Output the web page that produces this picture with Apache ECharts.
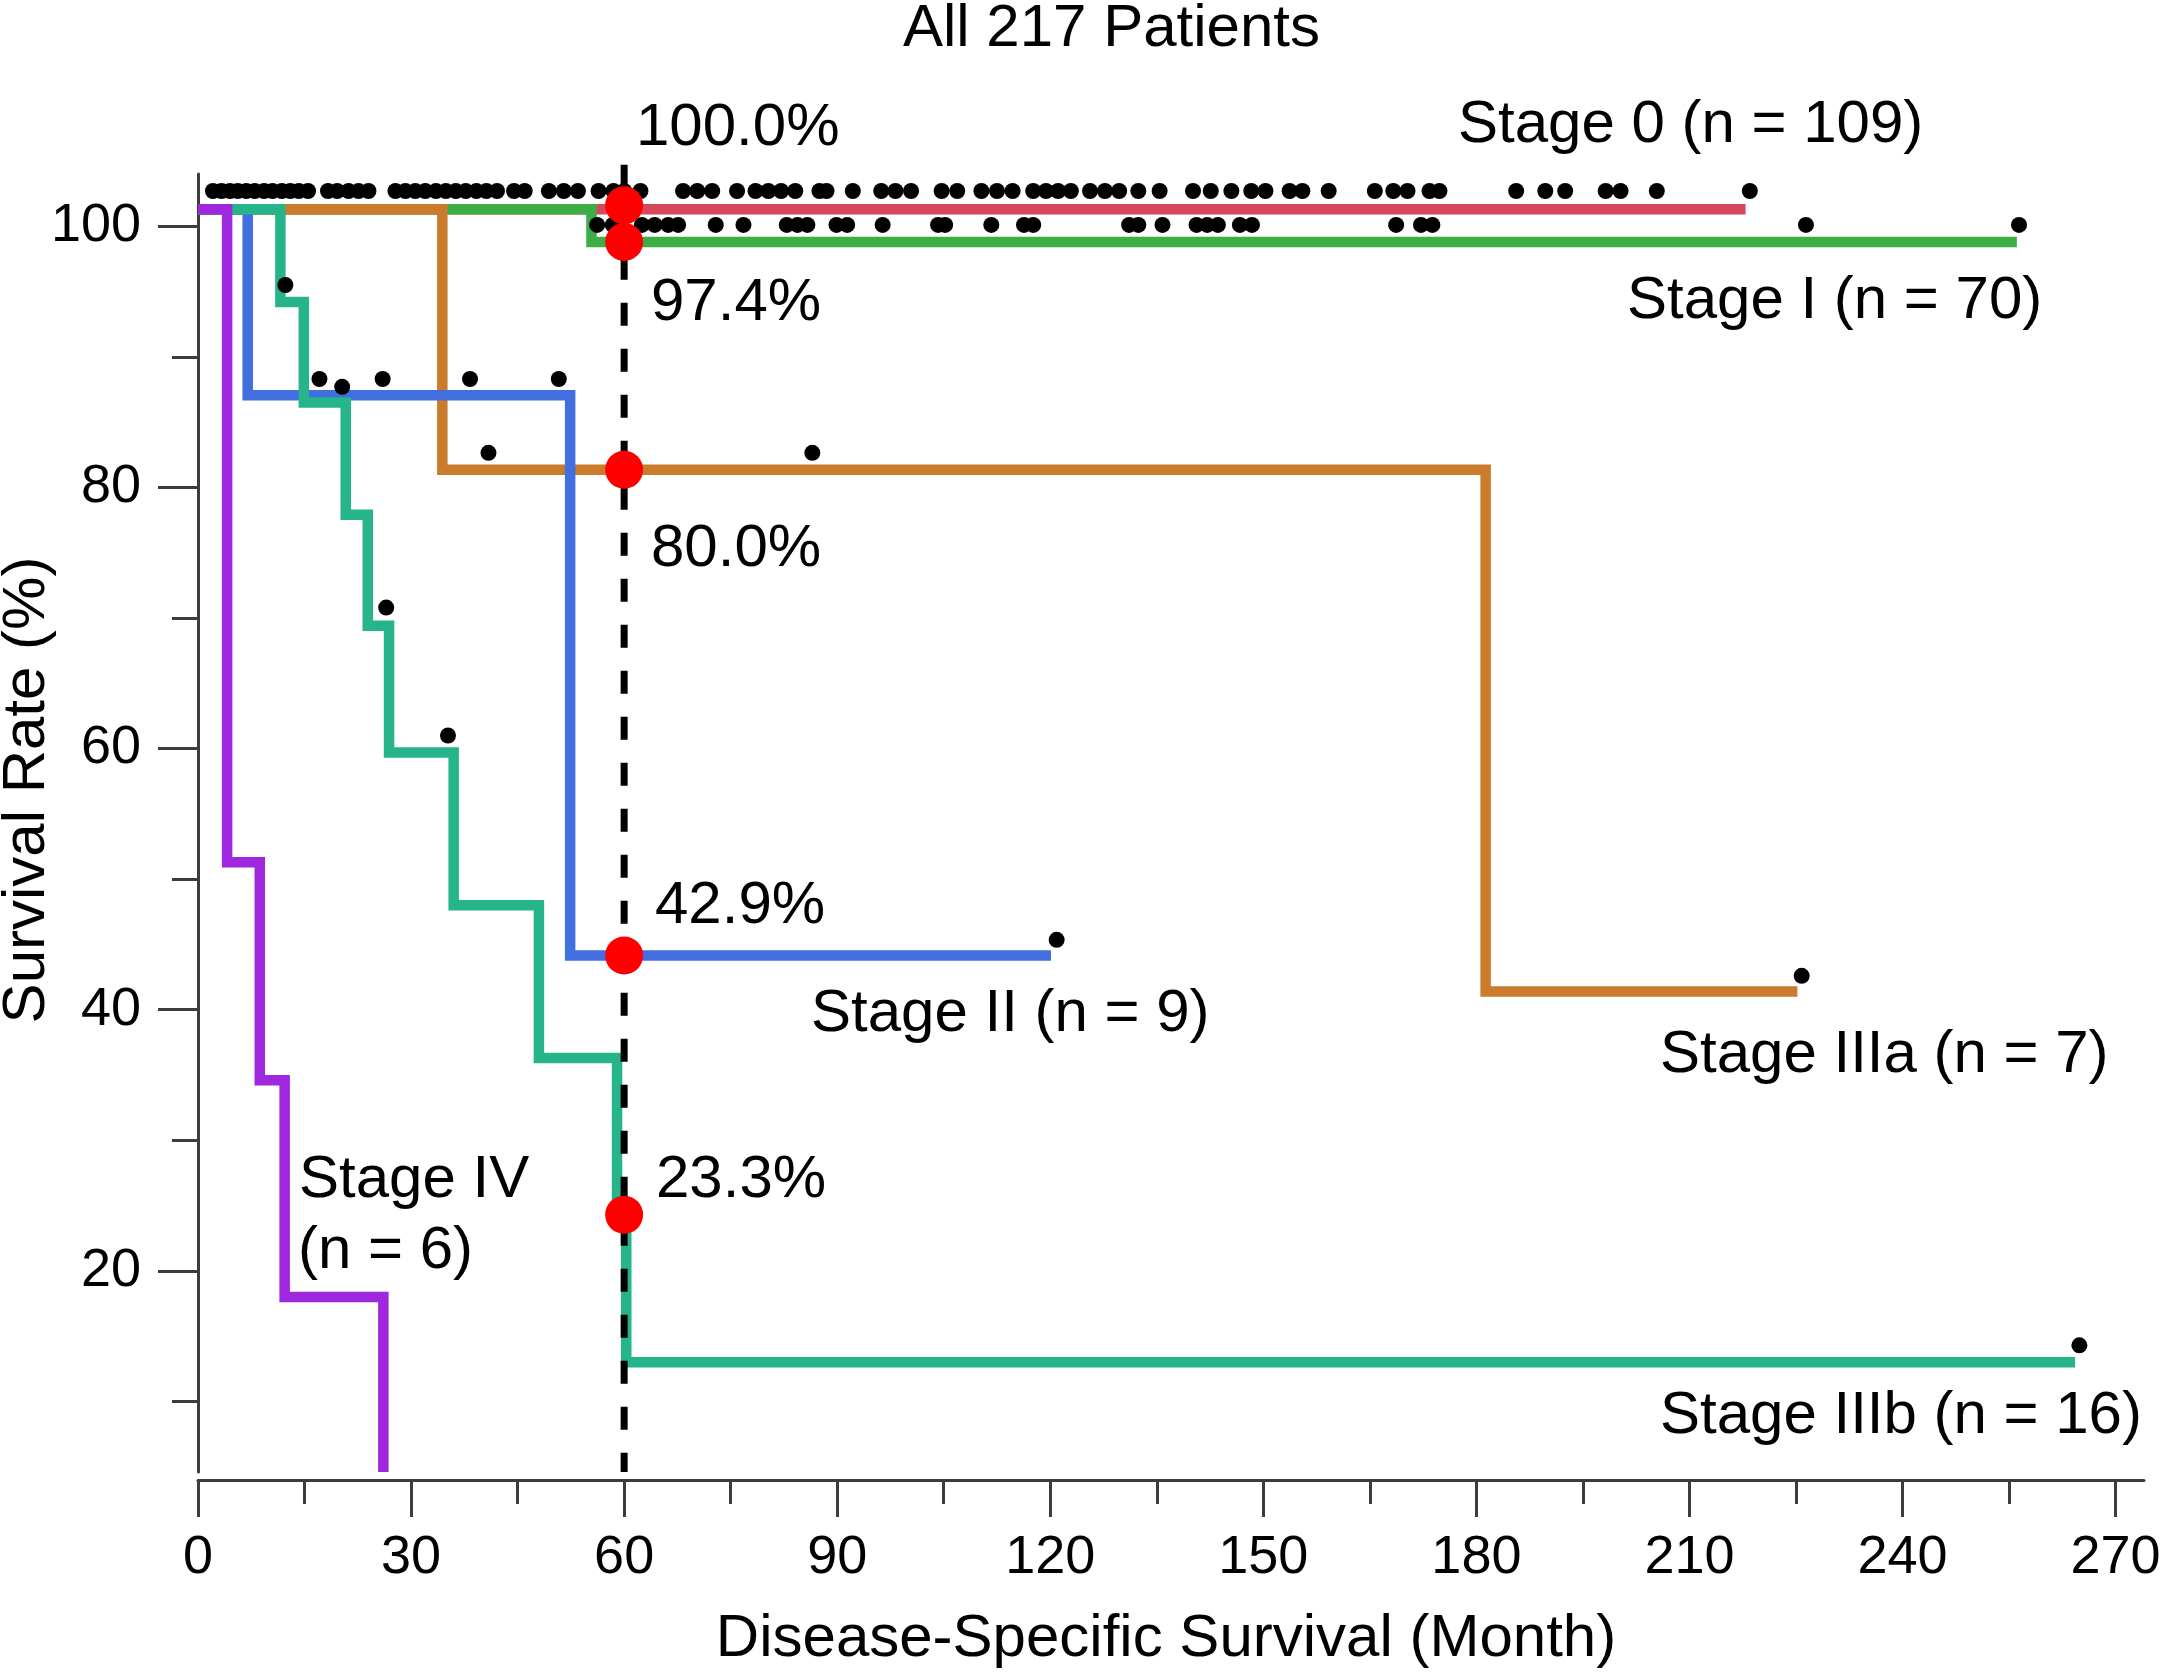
<!DOCTYPE html>
<html>
<head>
<meta charset="utf-8">
<title>All 217 Patients</title>
<script src="https://cdn.jsdelivr.net/npm/echarts@6.0.0/dist/echarts.min.js"></script>
<style>
  html, body { margin: 0; padding: 0; background: #fff; }
  #chart { width: 2164px; height: 1672px; }
</style>
</head>
<body>
<div id="chart"></div>
<script>
// Kaplan-Meier steps: [month, survival]
const stage0Curve = [[0, 101.3], [217.9, 101.3]];
const stage1Curve = [[0, 101.3], [55.4, 98.8], [256.1, 98.8]];
const stage2Curve = [[0, 101.3], [7.0, 87.05], [52.4, 44.15], [120.1, 44.15]];
const stage3aCurve = [[0, 101.3], [34.4, 81.35], [181.3, 41.4], [225.2, 41.4]];
const stage3bCurve = [[0, 101.3], [11.6, 94.2], [14.9, 86.5], [20.8, 77.9], [23.9, 69.4],
  [26.9, 59.7], [36.0, 48.0], [48.0, 36.3], [59.0, 24.3], [60.3, 13.0], [264.3, 13.0]];
const stage4Curve = [[0, 101.3], [4.1, 51.3], [8.7, 34.6], [12.2, 18.0], [26.1, 4.6]];

// censored patients (black dots)
const stage0CensorLevel = 102.7;
const stage0CensorMonths = [2.1, 3.3, 4.5, 5.6, 6.8, 8.0, 9.3, 10.5, 11.8, 13.0, 14.2, 15.5,
  18.3, 19.6, 21.2, 22.6, 24.0, 27.8, 29.2, 30.6, 32.0, 33.5, 34.9, 36.3, 37.7, 39.2, 40.6, 42.1,
  44.5, 46.0, 49.4, 51.5, 53.5, 56.4, 58.5, 60.0, 62.3, 68.3, 70.3, 72.4, 75.9, 78.5, 80.3, 82.1,
  84.1, 87.5, 88.5, 92.2, 96.2, 98.2, 100.4, 104.7, 106.9, 110.3, 112.5, 114.7, 117.6, 119.4,
  121.1, 122.9, 125.6, 127.7, 129.7, 132.4, 135.4, 140.1, 142.6, 145.5, 148.3, 150.3, 153.7,
  155.5, 159.2, 165.7, 168.3, 170.3, 173.4, 174.8, 185.6, 189.7, 192.5, 198.2, 200.3, 205.4, 218.5];
const stage1CensorLevel = 100.1;
const stage1CensorMonths = [56.2, 58.4, 62.5, 64.3, 66.2, 67.6, 72.9, 76.8, 82.9, 84.4, 85.8,
  89.9, 91.4, 96.4, 104.2, 105.2, 111.7, 116.3, 117.6, 131.1, 132.4, 135.8, 140.6, 142.1, 143.6,
  146.7, 148.4, 168.7, 172.2, 173.8, 226.4, 256.4];
const stage2Censored = [[17.1, 88.3], [26.0, 88.3], [38.3, 88.3], [50.8, 88.3], [120.9, 45.35]];
const stage3aCensored = [[40.9, 82.65], [86.5, 82.65], [225.8, 42.6]];
const stage3bCensored = [[12.3, 95.5], [20.3, 87.7], [26.5, 70.8], [35.2, 61.0], [264.9, 14.3]];

// 5-year landmark
const landmarkMonth = 60;
const landmarkRates = [101.6, 98.8, 81.35, 44.15, 24.3];
const landmarkTexts = ['100.0%', '97.4%', '80.0%', '42.9%', '23.3%'];

// axis ticks
const xMajorTicks = [0, 30, 60, 90, 120, 150, 180, 210, 240, 270];
const xMinorTicks = [15, 45, 75, 105, 135, 165, 195, 225, 255];
const yMajorTicks = [20, 40, 60, 80, 100];
const yMinorTicks = [10, 30, 50, 70, 90];

const FONT = '"Liberation Sans", Arial, Helvetica, sans-serif';
const AXIS_COLOR = '#3c3c3c';
const colors = {
  s0: '#D5475A',
  s1: '#3CAE45',
  s2: '#426FDF',
  s3a: '#CC7A2B',
  s3b: '#26B48A',
  s4: '#9F27DE'
};

const chart = echarts.init(document.getElementById('chart'), null, { renderer: 'canvas' });

function kmLine(name, data, color) {
  return {
    name: name,
    type: 'line',
    step: 'end',
    data: data,
    symbol: 'none',
    lineStyle: { color: color, width: 10.5, cap: 'butt', join: 'miter' },
    z: 2,
    silent: true
  };
}

function dots(data, size, color, z) {
  return {
    type: 'scatter',
    data: data,
    symbol: 'circle',
    symbolSize: size,
    itemStyle: { color: color, opacity: 1 },
    clip: false,
    z: z,
    silent: true
  };
}

function text(str, x, y, opts) {
  opts = opts || {};
  return {
    type: 'text',
    x: x,
    y: y,
    rotation: opts.rotation || 0,
    style: {
      text: str,
      fill: '#000',
      font: (opts.size || 60) + 'px ' + FONT,
      align: opts.align || 'left',
      verticalAlign: 'middle'
    },
    z: 10
  };
}

const stage0Censored = stage0CensorMonths.map(m => [m, stage0CensorLevel]);
const stage1Censored = stage1CensorMonths.map(m => [m, stage1CensorLevel]);

const option = {
  animation: false,
  backgroundColor: '#fff',
  grid: { left: 198, right: 20, top: 174, bottom: 200, containLabel: false },
  xAxis: [{
    type: 'value',
    position: 'bottom',
    min: 0,
    max: 274,
    offset: 8,
    axisLine: { show: true, lineStyle: { color: AXIS_COLOR, width: 3 } },
    axisTick: { show: true, length: 37, customValues: xMajorTicks, lineStyle: { color: AXIS_COLOR, width: 3 } },
    axisLabel: { customValues: xMajorTicks, fontSize: 54, fontFamily: FONT, color: '#000', margin: 51 },
    splitLine: { show: false }
  }, {
    type: 'value',
    position: 'bottom',
    min: 0,
    max: 274,
    offset: 8,
    axisLine: { show: false },
    axisTick: { show: true, length: 24, customValues: xMinorTicks, lineStyle: { color: AXIS_COLOR, width: 3 } },
    axisLabel: { show: false },
    splitLine: { show: false }
  }],
  yAxis: [{
    type: 'value',
    position: 'left',
    min: 4.6,
    max: 104,
    axisLine: { show: true, lineStyle: { color: AXIS_COLOR, width: 3 } },
    axisTick: { show: true, length: 40, customValues: yMajorTicks, lineStyle: { color: AXIS_COLOR, width: 3 } },
    axisLabel: { customValues: yMajorTicks, fontSize: 54, fontFamily: FONT, color: '#000', margin: 57 },
    splitLine: { show: false }
  }, {
    type: 'value',
    position: 'left',
    min: 4.6,
    max: 104,
    axisLine: { show: false },
    axisTick: { show: true, length: 26, customValues: yMinorTicks, lineStyle: { color: AXIS_COLOR, width: 3 } },
    axisLabel: { show: false },
    splitLine: { show: false }
  }],
  series: [
    kmLine('Stage 0', stage0Curve, colors.s0),
    kmLine('Stage I', stage1Curve, colors.s1),
    kmLine('Stage IIIa', stage3aCurve, colors.s3a),
    kmLine('Stage II', stage2Curve, colors.s2),
    kmLine('Stage IIIb', stage3bCurve, colors.s3b),
    kmLine('Stage IV', stage4Curve, colors.s4),
    {
      type: 'line',
      data: [[landmarkMonth, 104.7], [landmarkMonth, 4.6]],
      symbol: 'none',
      clip: false,
      lineStyle: { color: '#000', width: 7, type: [23, 23] },
      z: 3,
      silent: true
    },
    dots(stage0Censored, 16, '#000', 4),
    dots(stage1Censored, 16, '#000', 4),
    dots(stage2Censored, 16, '#000', 4),
    dots(stage3aCensored, 16, '#000', 4),
    dots(stage3bCensored, 16, '#000', 4),
    dots(landmarkRates.map(r => [landmarkMonth, r]), 38, '#FF0000', 5)
  ],
  graphic: [
    text('All 217 Patients', 903, 29),
    text(landmarkTexts[0], 636, 128),
    text(landmarkTexts[1], 651, 303),
    text(landmarkTexts[2], 651, 549),
    text(landmarkTexts[3], 655, 906),
    text(landmarkTexts[4], 656, 1180),
    text('Stage 0 (n = 109)', 1458, 125),
    text('Stage I (n = 70)', 1627, 301),
    text('Stage II (n = 9)', 811, 1014),
    text('Stage IIIa (n = 7)', 1660, 1055),
    text('Stage IIIb (n = 16)', 1660, 1416),
    text('Stage IV', 299, 1180),
    text('(n = 6)', 298, 1251),
    text('Disease-Specific Survival (Month)', 1166, 1639, { align: 'center' }),
    text('Survival Rate (%)', 27, 790, { align: 'center', rotation: Math.PI / 2 })
  ]
};

chart.setOption(option);
</script>
</body>
</html>
